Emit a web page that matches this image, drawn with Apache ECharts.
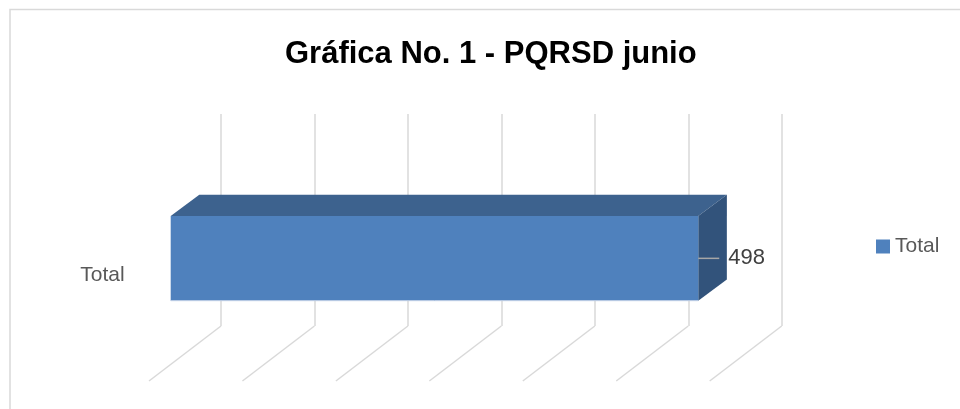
<!DOCTYPE html>
<html>
<head>
<meta charset="utf-8">
<script src="https://cdn.jsdelivr.net/npm/echarts@6/dist/echarts.min.js"></script>
<style>
html,body{margin:0;padding:0;background:#fff;}
#chart{width:960px;height:409px;}
</style>
</head>
<body>
<div id="chart"></div>
<script>
// ---- data ----
var titleText = 'Gráfica No. 1 - PQRSD junio';
var categories = ['Total'];
var seriesName = 'Total';
var values = [498];
var axisMin = 0;
var axisMax = 600;
var axisInterval = 100;
var gridTicks = [0, 100, 200, 300, 400, 500, 600];

// ---- style ----
var FRONT = '#4f81bd', TOP = '#3d628e', SIDE = '#32537b';
var DX = 28.6, DY = -21.3;        // bar depth offset
var FLOOR_DX = -72, FLOOR_DY = 55; // floor gridline offset
var GRID_COLOR = '#d9d9d9';

var chart = echarts.init(document.getElementById('chart'), null, {renderer: 'canvas'});

var option = {
  animation: false,
  backgroundColor: '#ffffff',
  textStyle: {fontFamily: 'Liberation Sans'},
  graphic: [{
    type: 'rect', z: -10, silent: true,
    shape: {x: 10, y: 9.5, width: 1000, height: 500},
    style: {fill: '#ffffff', stroke: GRID_COLOR, lineWidth: 1.5}
  }],
  title: {
    text: titleText,
    left: 280, top: 34,
    textStyle: {fontFamily: 'Liberation Sans', fontWeight: 'bold', fontSize: 31, color: '#000000'}
  },
  legend: {
    data: [{name: seriesName, icon: 'rect'}],
    left: 876, top: 236, padding: 0,
    itemWidth: 14, itemHeight: 14, itemGap: 5,
    textStyle: {fontFamily: 'Liberation Sans', fontSize: 21, color: '#595959'}
  },
  grid: [
    {left: 221, right: 178.3, top: 114, height: 212, containLabel: false},
    {left: 170.7, right: 153.7, top: 216, height: 84.7, containLabel: false}
  ],
  xAxis: [
    {gridIndex: 0, type: 'value', min: axisMin, max: axisMax, interval: axisInterval,
     axisLine: {show: false}, axisTick: {show: false}, axisLabel: {show: false},
     splitLine: {show: true, lineStyle: {color: GRID_COLOR, width: 1.5}}},
    {gridIndex: 1, type: 'value', min: axisMin, max: axisMax, interval: axisInterval,
     axisLine: {show: false}, axisTick: {show: false}, axisLabel: {show: false},
     splitLine: {show: false}}
  ],
  yAxis: [
    {gridIndex: 0, type: 'value', min: 0, max: 1, show: false},
    {gridIndex: 1, type: 'category', data: categories,
     axisLine: {show: false}, axisTick: {show: false}, splitLine: {show: false},
     axisLabel: {margin: 46, fontFamily: 'Liberation Sans', fontSize: 21, color: '#595959',
                 verticalAlign: 'top', lineHeight: 34}}
  ],
  series: [
    {
      type: 'custom', name: 'floor', xAxisIndex: 0, yAxisIndex: 0, silent: true, z: 1,
      data: gridTicks.map(function (t) { return [t]; }),
      renderItem: function (params, api) {
        var p = api.coord([api.value(0), 0]);
        return {
          type: 'line',
          shape: {x1: p[0], y1: p[1], x2: p[0] + FLOOR_DX, y2: p[1] + FLOOR_DY},
          style: {stroke: GRID_COLOR, lineWidth: 1.5}
        };
      }
    },
    {
      type: 'custom', name: seriesName, xAxisIndex: 1, yAxisIndex: 1, z: 5,
      itemStyle: {color: FRONT},
      data: values.map(function (v, i) { return [v, i]; }),
      renderItem: function (params, api) {
        var v = api.value(0), c = api.value(1);
        var p0 = api.coord([0, c]);
        var p1 = api.coord([v, c]);
        var h = api.size([0, 1])[1];
        var x0 = p0[0], x1 = p1[0], yt = p0[1] - h / 2, yb = p0[1] + h / 2;
        var ym = p0[1];
        return {
          type: 'group',
          children: [
            {type: 'polygon', shape: {points: [[x0, yt], [x1, yt], [x1 + DX, yt + DY], [x0 + DX, yt + DY]]},
             style: {fill: TOP}},
            {type: 'polygon', shape: {points: [[x1, yt], [x1 + DX, yt + DY], [x1 + DX, yb + DY], [x1, yb]]},
             style: {fill: SIDE}},
            {type: 'rect', shape: {x: x0, y: yt, width: x1 - x0, height: h},
             style: {fill: FRONT}},
            {type: 'line', shape: {x1: x0, y1: yb, x2: x1, y2: yb},
             style: {stroke: '#c5d3e8', lineWidth: 1}},
            {type: 'line', shape: {x1: x1, y1: ym, x2: x1 + 21, y2: ym},
             style: {stroke: '#a6a6a6', lineWidth: 1.5}},
            {type: 'text', x: x1 + 30, y: ym,
             style: {text: String(v), fill: '#404040', fontFamily: 'Liberation Sans', fontSize: 22,
                     verticalAlign: 'middle', align: 'left'}}
          ]
        };
      }
    }
  ]
};
chart.setOption(option);
</script>
</body>
</html>
